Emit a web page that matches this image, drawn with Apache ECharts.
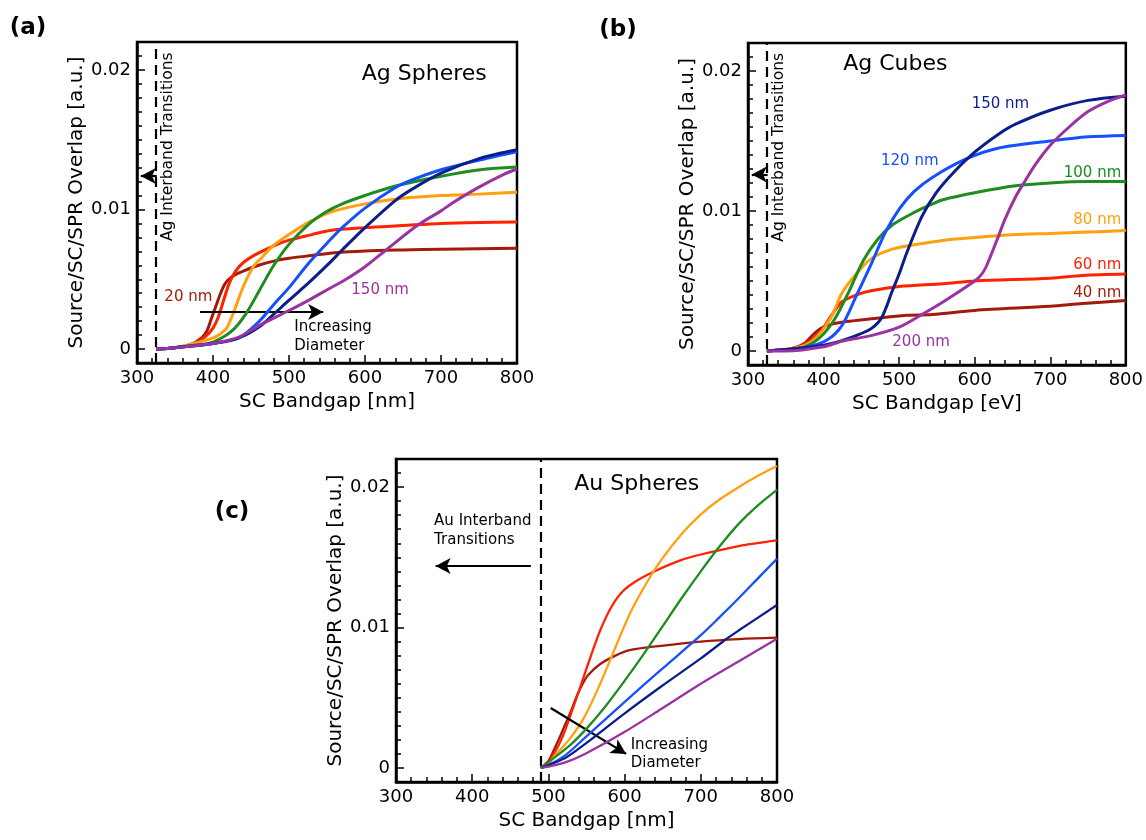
<!DOCTYPE html>
<html><head><meta charset="utf-8">
<script src="https://cdn.jsdelivr.net/npm/echarts@6/dist/echarts.min.js"></script>
<style>html,body{margin:0;padding:0;background:#fff}#c{width:1146px;height:840px}</style>
</head><body><div id="c"></div>
<script>
// ---------- DATA ----------
const xTickLabels = [300, 400, 500, 600, 700, 800];
const yTickLabels = [0, 0.01, 0.02];

// Panel (a) Ag Spheres  [bandgap nm, overlap a.u.]
const agSph_20nm = [[325,0],[350,0.0001],[370,0.0003],[385,0.0008],[392,0.0013],[398,0.0022],[404,0.0031],[410,0.004],[416,0.0047],[423,0.0051],[432,0.0054],[445,0.0057],[460,0.006],[480,0.0063],[500,0.0065],[530,0.0067],[560,0.0069],[600,0.00703],[650,0.0071],[700,0.00715],[750,0.00719],[800,0.00722]];
const agSph_red = [[325,0],[350,0.0001],[375,0.0004],[390,0.0009],[400,0.0015],[407,0.0023],[414,0.0035],[422,0.0048],[430,0.0056],[440,0.0062],[457,0.0068],[480,0.0074],[500,0.0078],[530,0.0082],[554,0.0085],[600,0.0087],[650,0.00885],[700,0.009],[750,0.00907],[800,0.0091]];
const agSph_orange = [[325,0],[350,0.0001],[375,0.0004],[400,0.0008],[410,0.0011],[418,0.0015],[429,0.0029],[440,0.0045],[453,0.0059],[465,0.0066],[479,0.0074],[500,0.0082],[514,0.0087],[530,0.0092],[554,0.0098],[600,0.0104],[650,0.0108],[700,0.011],[750,0.0111],[800,0.01123]];
const agSph_green = [[325,0],[350,0.0001],[380,0.0003],[400,0.0005],[425,0.0013],[443,0.0025],[461,0.0042],[480,0.006],[500,0.0075],[525,0.0089],[548,0.0098],[570,0.0104],[600,0.011],[639,0.01166],[700,0.01238],[752,0.01285],[800,0.01304]];
const agSph_blue = [[325,0],[350,0.0001],[400,0.0004],[434,0.0008],[461,0.002],[480,0.0032],[500,0.0044],[525,0.0061],[552,0.0077],[570,0.0087],[600,0.0101],[639,0.01154],[661,0.0121],[700,0.01285],[752,0.01356],[800,0.01416]];
const agSph_navy = [[325,0],[350,0.0001],[400,0.0004],[434,0.0008],[461,0.0016],[480,0.0025],[500,0.0035],[525,0.0047],[552,0.0061],[570,0.0071],[600,0.0087],[639,0.0106],[661,0.01142],[700,0.0126],[752,0.01368],[800,0.01428]];
const agSph_150nm = [[325,0],[350,0.0001],[400,0.0004],[434,0.00085],[461,0.0017],[500,0.00276],[525,0.00347],[552,0.0043],[575,0.005],[600,0.0059],[630,0.0072],[670,0.0089],[700,0.0099],[716,0.0105],[750,0.0116],[784,0.01255],[800,0.0129]];

// Panel (b) Ag Cubes
const agCub_40nm = [[325,0],[350,0.0001],[365,0.0003],[376,0.0006],[385,0.0011],[396,0.0016],[410,0.0019],[430,0.0021],[463,0.0023],[510,0.00255],[544,0.0026],[600,0.0029],[700,0.0032],[743,0.0034],[800,0.0036]];
const agCub_60nm = [[325,0],[350,0.0001],[376,0.0005],[396,0.0014],[410,0.0025],[424,0.0035],[443,0.004],[463,0.0043],[500,0.0046],[558,0.0048],[600,0.005],[700,0.0052],[743,0.0054],[800,0.0055]];
const agCub_80nm = [[325,0],[350,0.0001],[375,0.0004],[391,0.001],[410,0.0024],[424,0.0041],[443,0.0055],[463,0.0066],[487,0.0072],[510,0.0075],[558,0.0079],[600,0.0081],[650,0.0083],[700,0.0084],[750,0.0085],[800,0.0086]];
const agCub_100nm = [[325,0],[350,0.0001],[375,0.0003],[396,0.001],[415,0.0023],[434,0.0043],[453,0.0065],[472,0.008],[491,0.009],[520,0.0099],[544,0.0105],[558,0.0108],[600,0.0113],[654,0.0118],[700,0.012],[750,0.0121],[800,0.0121]];
const agCub_120nm = [[325,0],[350,0.0001],[380,0.0003],[405,0.0008],[424,0.0018],[443,0.0039],[463,0.0062],[482,0.0085],[501,0.0102],[520,0.0114],[544,0.0124],[588,0.0137],[632,0.0145],[700,0.015],[750,0.0153],[800,0.0154]];
const agCub_150nm = [[325,0],[350,0.0001],[385,0.0003],[415,0.0006],[443,0.0011],[463,0.0016],[477,0.0024],[491,0.0043],[500,0.0055],[510,0.007],[530,0.0096],[549,0.0113],[573,0.0128],[600,0.0142],[632,0.0155],[654,0.0162],[700,0.0172],[750,0.0179],[800,0.0182]];
const agCub_200nm = [[325,0],[350,0],[400,0.0003],[424,0.0007],[463,0.0011],[500,0.0017],[530,0.0026],[558,0.0035],[600,0.005],[608,0.0054],[615,0.006],[630,0.008],[640,0.0094],[654,0.011],[665,0.012],[680,0.0133],[700,0.0147],[725,0.016],[750,0.0171],[775,0.0178],[800,0.0183]];

// Panel (c) Au Spheres
const auSph_darkred = [[490,0],[500,0.0005],[507,0.00126],[515,0.0022],[522,0.0031],[530,0.0041],[537,0.0051],[545,0.006],[552,0.0066],[568,0.0074],[588,0.008],[608,0.0084],[648,0.0087],[700,0.009],[750,0.00918],[800,0.00928]];
const auSph_red = [[490,0],[500,0.0004],[507,0.001],[515,0.0018],[522,0.0027],[537,0.005],[552,0.0074],[568,0.0098],[583,0.0115],[598,0.0126],[618,0.0134],[643,0.0141],[674,0.0148],[700,0.0152],[750,0.0158],[800,0.0162]];
const auSph_orange = [[490,0],[500,0.0003],[507,0.0008],[527,0.002],[547,0.0036],[568,0.006],[588,0.0086],[608,0.0111],[628,0.0131],[648,0.0148],[674,0.0166],[699,0.018],[724,0.0191],[750,0.02],[775,0.0208],[800,0.0215]];
const auSph_green = [[490,0],[507,0.0007],[530,0.0017],[550,0.0028],[575,0.0044],[600,0.0062],[625,0.0081],[650,0.0101],[675,0.0121],[700,0.014],[725,0.0158],[750,0.0174],[775,0.0187],[800,0.0198]];
const auSph_blue = [[490,0],[500,0.0002],[522,0.0009],[547,0.0021],[598,0.0046],[648,0.007],[699,0.0094],[724,0.0107],[750,0.0121],[775,0.0135],[800,0.0149]];
const auSph_navy = [[490,0],[500,0.0002],[522,0.0007],[548,0.0017],[598,0.0038],[648,0.0058],[700,0.0078],[734,0.0092],[750,0.0098],[800,0.0116]];
const auSph_purple = [[490,0],[500,0.0001],[522,0.0004],[548,0.001],[598,0.0025],[648,0.0042],[700,0.006],[750,0.0076],[800,0.0092]];

// ---------- STYLE ----------
const FONT = '"DejaVu Sans", sans-serif';
const C = {dr:'#a31a0a', re:'#ff2200', or:'#ffa010', gr:'#1e8c1e', bl:'#1450ff', nv:'#0c1e8a', pu:'#9a32a0'};
const yMinorTicks = [];
for (let k = 1; k <= 21; k++) if (k % 10 !== 0) yMinorTicks.push(k / 1000);

const chart = echarts.init(document.getElementById('c'), null, {renderer:'canvas', width:1146, height:840});

const grids = [
  {left:137, top:42, width:380, height:321},
  {left:748, top:43, width:380, height:322},
  {left:396, top:459, width:381, height:323}
].map(g => Object.assign(g, {show:true, borderColor:'#000', borderWidth:2.5, backgroundColor:'transparent', containLabel:false}));

function xAxisCfg(gi, name) {
  return {gridIndex:gi, type:'value', min:300, max:800, interval:100, name:name, nameLocation:'middle', nameGap:29,
    nameTextStyle:{fontSize:20, color:'#000', fontFamily:FONT},
    axisLine:{show:true, onZero:false, lineStyle:{color:'#000', width:2.5}},
    axisTick:{show:true, inside:true, length:8, lineStyle:{color:'#000', width:1.5}},
    minorTick:{show:true, splitNumber:5, length:5, lineStyle:{color:'#000', width:1.5}},
    axisLabel:{fontSize:18, color:'#000', margin:6, fontFamily:FONT, customValues:xTickLabels},
    splitLine:{show:false}, minorSplitLine:{show:false}};
}
function yMajor(gi) {
  return {gridIndex:gi, type:'value', min:-0.001, max:0.022, position:'left',
    name:'Source/SC/SPR Overlap [a.u.]', nameLocation:'middle', nameGap:50,
    nameTextStyle:{fontSize:20, color:'#000', fontFamily:FONT},
    axisLine:{show:true, onZero:false, lineStyle:{color:'#000', width:2.5}},
    axisTick:{show:true, inside:true, length:8, customValues:yTickLabels, lineStyle:{color:'#000', width:1.5}},
    axisLabel:{customValues:yTickLabels, fontSize:18, color:'#000', margin:6, fontFamily:FONT,
      formatter: v => (Math.abs(v) < 1e-9 ? '0' : v.toFixed(2))},
    splitLine:{show:false}};
}
function yMinor(gi) {
  return {gridIndex:gi, type:'value', min:-0.001, max:0.022, position:'left',
    axisLine:{show:false, onZero:false},
    axisTick:{show:true, inside:true, length:5, customValues:yMinorTicks, lineStyle:{color:'#000', width:1.5}},
    axisLabel:{show:false}, splitLine:{show:false}};
}

function line(gi, name, data, color, width, z, extra) {
  return Object.assign({type:'line', name:name, xAxisIndex:gi, yAxisIndex:gi*2, data:data, showSymbol:false,
    smooth:0.3, lineStyle:{color:color, width:width}, itemStyle:{color:color},
    z:z, silent:true, animation:false}, extra || {});
}
function marks(items) {
  return {markLine:{silent:true, animation:false, symbol:['none','none'], label:{show:false},
    lineStyle:{color:'#000', width:2, type:'solid'}, emphasis:{disabled:true}, data:items}};
}
function arrow(x1, y1, x2, y2) {
  return [{coord:[x1, y1], symbol:'none'}, {coord:[x2, y2], symbol:'arrow', symbolSize:[12, 15], lineStyle:{color:'#000', width:2.2, type:'solid'}}];
}
const dashed = x => ({xAxis:x, lineStyle:{type:[10,6], width:2.2, color:'#000'}});

const series = [
  line(0, '20 nm', agSph_20nm, C.dr, 3, 2, marks([dashed(325), arrow(326, 0.0124, 305, 0.0124), arrow(383, 0.00266, 545, 0.00266)])),
  line(0, 'red', agSph_red, C.re, 3, 3),
  line(0, 'orange', agSph_orange, C.or, 3, 4),
  line(0, 'green', agSph_green, C.gr, 3, 5),
  line(0, 'blue', agSph_blue, C.bl, 3, 6),
  line(0, 'navy', agSph_navy, C.nv, 3, 7),
  line(0, '150 nm', agSph_150nm, C.pu, 3, 8),

  line(1, '40 nm', agCub_40nm, C.dr, 3, 2, marks([dashed(325), arrow(326, 0.0126, 305, 0.0126)])),
  line(1, '60 nm', agCub_60nm, C.re, 3, 3),
  line(1, '80 nm', agCub_80nm, C.or, 3, 4),
  line(1, '100 nm', agCub_100nm, C.gr, 3, 5),
  line(1, '120 nm', agCub_120nm, C.bl, 3, 6),
  line(1, '150 nm', agCub_150nm, C.nv, 3, 7),
  line(1, '200 nm', agCub_200nm, C.pu, 3, 8),

  line(2, 'darkred', auSph_darkred, C.dr, 2.3, 2, marks([dashed(490), arrow(477, 0.01438, 352, 0.01438), arrow(503, 0.00427, 602, 0.001)])),
  line(2, 'red', auSph_red, C.re, 2.3, 3),
  line(2, 'orange', auSph_orange, C.or, 2.3, 4),
  line(2, 'green', auSph_green, C.gr, 2.3, 5),
  line(2, 'blue', auSph_blue, C.bl, 2.3, 6),
  line(2, 'navy', auSph_navy, C.nv, 2.3, 7),
  line(2, 'purple', auSph_purple, C.pu, 2.3, 8)
];

chart.setOption({
  backgroundColor:'#fff', animation:false,
  textStyle:{fontFamily:FONT},
  grid:grids,
  xAxis:[xAxisCfg(0,'SC Bandgap [nm]'), xAxisCfg(1,'SC Bandgap [eV]'), xAxisCfg(2,'SC Bandgap [nm]')],
  yAxis:[yMajor(0), yMinor(0), yMajor(1), yMinor(1), yMajor(2), yMinor(2)],
  series:series
});

// ---------- ANNOTATIONS (data coordinates) ----------
const notes = [
  {g:0, t:'Ag Spheres', x:678, y:0.0197, c:'#000', s:22, a:'center'},
  {g:0, t:'20 nm', x:336, y:0.0037, c:C.dr, s:15, a:'left'},
  {g:0, t:'150 nm', x:582, y:0.0042, c:C.pu, s:15, a:'left'},
  {g:0, t:'Increasing', x:507, y:0.00157, c:'#000', s:15, a:'left'},
  {g:0, t:'Diameter', x:507, y:0.0002, c:'#000', s:15, a:'left'},
  {g:0, t:'Ag Interband Transitions', x:341, y:0.0145, c:'#000', s:15.5, a:'center', r:true},

  {g:1, t:'Ag Cubes', x:495, y:0.02045, c:'#000', s:22, a:'center'},
  {g:1, t:'150 nm', x:596, y:0.0176, c:C.nv, s:15, a:'left'},
  {g:1, t:'120 nm', x:476, y:0.01357, c:C.bl, s:15, a:'left'},
  {g:1, t:'100 nm', x:794, y:0.01274, c:C.gr, s:15, a:'right'},
  {g:1, t:'80 nm', x:794, y:0.00933, c:C.or, s:15, a:'right'},
  {g:1, t:'60 nm', x:794, y:0.00617, c:C.re, s:15, a:'right'},
  {g:1, t:'40 nm', x:794, y:0.00414, c:C.dr, s:15, a:'right'},
  {g:1, t:'200 nm', x:491, y:0.0006, c:C.pu, s:15, a:'left'},
  {g:1, t:'Ag Interband Transitions', x:341, y:0.01455, c:'#000', s:15.5, a:'center', r:true},

  {g:2, t:'Au Spheres', x:616, y:0.0202, c:'#000', s:22, a:'center'},
  {g:2, t:'Au Interband', x:350, y:0.01756, c:'#000', s:15, a:'left'},
  {g:2, t:'Transitions', x:350, y:0.0162, c:'#000', s:15, a:'left'},
  {g:2, t:'Increasing', x:608, y:0.00166, c:'#000', s:15, a:'left'},
  {g:2, t:'Diameter', x:608, y:0.00038, c:'#000', s:15, a:'left'}
];
const panelTags = [
  {t:'(a)', x:28, y:28}, {t:'(b)', x:618, y:30}, {t:'(c)', x:232, y:512}
];

const graphics = notes.map(n => {
  const p = chart.convertToPixel({xAxisIndex:n.g, yAxisIndex:n.g*2}, [n.x, n.y]);
  return {type:'text', x:p[0], y:p[1], rotation: n.r ? Math.PI/2 : 0, silent:true, z:100,
    style:{text:n.t, fill:n.c, font: n.s + 'px ' + FONT, align:n.a, verticalAlign:'middle'}};
}).concat(panelTags.map(p => ({type:'text', x:p.x, y:p.y, silent:true, z:100,
    style:{text:p.t, fill:'#000', font:'bold 23px ' + FONT, align:'center', verticalAlign:'middle'}})));

chart.setOption({graphic:graphics});
</script>
</body></html>
